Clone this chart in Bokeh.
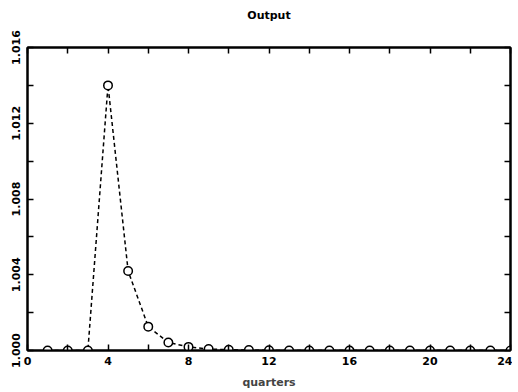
from bokeh.plotting import figure
from bokeh.models import LinearAxis, FixedTicker, PrintfTickFormatter, Range1d, Title, CustomJSTickFormatter
from bokeh.embed import file_html
from bokeh.resources import INLINE

quarters = list(range(1, 25))
output = [1.0, 1.0, 1.0, 1.0140, 1.00420, 1.00126, 1.00042, 1.00019, 1.00008, 1.00004,
          1.00002, 1.00001, 1.0, 1.0, 1.0, 1.0, 1.0, 1.0, 1.0, 1.0, 1.0, 1.0, 1.0, 1.0]
x_ticks = [0, 4, 8, 12, 16, 20, 24]
x_minor = [2, 6, 10, 14, 18, 22]
y_ticks = [1.000, 1.004, 1.008, 1.012, 1.016]
y_minor = [1.002, 1.006, 1.010, 1.014]

FONT = "DejaVu Sans"

p = figure(width=512, height=391, output_backend="svg", toolbar_location=None,
           x_range=Range1d(0, 24), y_range=Range1d(1.0, 1.016),
           min_border_left=27, min_border_right=2, min_border_top=47, min_border_bottom=39)
p.title = None

p.xgrid.visible = False
p.ygrid.visible = False
p.outline_line_color = "black"
p.outline_line_width = 2
p.background_fill_color = "white"
p.border_fill_color = "white"

def style(ax, labels=True):
    ax.axis_line_color = "black"
    ax.axis_line_width = 2
    ax.major_tick_in = 6
    ax.major_tick_out = 0
    ax.minor_tick_in = 6
    ax.minor_tick_out = 0
    ax.major_tick_line_color = "black"
    ax.minor_tick_line_color = "black"
    ax.major_tick_line_width = 1.5
    ax.minor_tick_line_width = 1.5
    ax.major_label_text_font = FONT
    ax.major_label_text_font_style = "bold"
    ax.major_label_text_font_size = "11px"
    ax.major_label_text_color = "black"
    ax.major_label_standoff = 6 if labels else 0
    if not labels:
        ax.formatter = CustomJSTickFormatter(code="return '';")

xax = p.xaxis[0]
xax.ticker = FixedTicker(ticks=x_ticks, minor_ticks=x_minor)
style(xax)
xax.axis_label = "quarters"
xax.axis_label_text_font = FONT
xax.axis_label_text_font_style = "bold"
xax.axis_label_text_font_size = "11px"
xax.axis_label_standoff = 8

yax = p.yaxis[0]
yax.ticker = FixedTicker(ticks=y_ticks, minor_ticks=y_minor)
yax.formatter = PrintfTickFormatter(format="%.3f")
style(yax)
yax.major_label_standoff = 8
yax.major_label_orientation = "vertical"

top = LinearAxis(ticker=FixedTicker(ticks=x_ticks, minor_ticks=x_minor))
style(top, labels=False)
p.add_layout(top, "above")
right = LinearAxis(ticker=FixedTicker(ticks=y_ticks, minor_ticks=y_minor))
style(right, labels=False)
p.add_layout(right, "right")

t = Title(text="Output\n\n", align="center", text_font=FONT, text_font_size="11px",
          text_font_style="bold", text_color="black", standoff=0)
p.add_layout(t, "above")

p.line(quarters, output, line_color="black", line_width=1.5, line_dash="4 3")
p.scatter(quarters, output, marker="circle", size=8.5, fill_color="white",
          line_color="black", line_width=1.5)

open("out.html", "w").write(file_html(p, INLINE))
